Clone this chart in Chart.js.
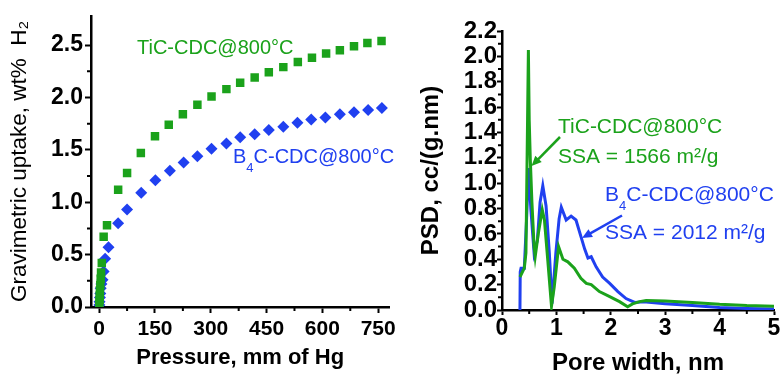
<!DOCTYPE html>
<html>
<head>
<meta charset="utf-8">
<script src="https://cdn.jsdelivr.net/npm/chart.js@4.4.0/dist/chart.umd.min.js"></script>
<style>
  html, body { margin: 0; padding: 0; background: #fff; }
  #wrap { position: relative; width: 781px; height: 375px; overflow: hidden; }
  canvas { position: absolute; top: 0; }
  #uptake { left: 0; }
  #psd { left: 400px; }
</style>
</head>
<body>
<div id="wrap">
  <canvas id="uptake" width="400" height="375"></canvas>
  <canvas id="psd" width="381" height="375"></canvas>
</div>
<script>
// left panel: H2 isotherms
const ticPressure = [0.5, 1, 1.5, 2, 3, 4, 5, 7, 12, 21, 51, 75, 112, 150, 187, 225, 264, 302, 342, 379, 418, 456, 495, 534, 572, 610, 647, 685, 721, 759];
const ticUptake = [0.03, 0.07, 0.11, 0.16, 0.21, 0.27, 0.33, 0.42, 0.67, 0.78, 1.12, 1.28, 1.47, 1.63, 1.74, 1.84, 1.93, 2.01, 2.08, 2.14, 2.19, 2.24, 2.29, 2.34, 2.38, 2.42, 2.45, 2.49, 2.52, 2.54];
const b4cPressure = [0.5, 1, 2, 3, 4, 6, 9, 12, 16, 25, 51, 75, 113, 151, 190, 227, 264, 302, 342, 379, 418, 456, 495, 533, 570, 608, 647, 685, 723, 760];
const b4cUptake = [0.02, 0.05, 0.09, 0.13, 0.18, 0.22, 0.26, 0.34, 0.46, 0.57, 0.80, 0.93, 1.09, 1.21, 1.30, 1.38, 1.44, 1.51, 1.56, 1.62, 1.65, 1.69, 1.72, 1.76, 1.79, 1.81, 1.84, 1.86, 1.88, 1.90];

const pressureTicks = [0, 150, 300, 450, 600, 750];
const pressureMinor = [75, 225, 375, 525, 675];
const uptakeTicks = [0, 0.5, 1, 1.5, 2, 2.5];
const uptakeMinor = [0.25, 0.75, 1.25, 1.75, 2.25];

// right panel: pore size distribution
const ticWidth = [0.33, 0.41, 0.44, 0.47, 0.485, 0.50, 0.52, 0.55, 0.59, 0.61, 0.67, 0.74, 0.78, 0.84, 0.91, 0.96, 1.04, 1.12, 1.21, 1.33, 1.45, 1.55, 1.64, 1.79, 1.98, 2.16, 2.31, 2.40, 2.53, 2.65, 3.0, 3.5, 4.0, 4.5, 5.0];
const ticPsd = [0.26, 0.33, 0.45, 1.5, 2.05, 1.5, 1.19, 0.85, 0.50, 0.42, 0.61, 0.79, 0.71, 0.40, 0.03, 0.18, 0.50, 0.40, 0.38, 0.33, 0.25, 0.21, 0.20, 0.145, 0.105, 0.066, 0.026, 0.048, 0.066, 0.075, 0.07, 0.06, 0.045, 0.035, 0.03];
const b4cWidth = [0.33, 0.335, 0.35, 0.41, 0.45, 0.49, 0.53, 0.59, 0.65, 0.70, 0.75, 0.81, 0.87, 0.92, 0.99, 1.05, 1.09, 1.18, 1.27, 1.36, 1.45, 1.52, 1.58, 1.64, 1.73, 1.85, 1.98, 2.13, 2.28, 2.44, 2.6, 3.0, 3.5, 4.0, 4.5, 5.0];
const b4cPsd = [0, 0.30, 0.33, 0.33, 0.7, 1.12, 0.8, 0.45, 0.55, 0.85, 0.98, 0.82, 0.45, 0.05, 0.45, 0.72, 0.81, 0.71, 0.74, 0.71, 0.58, 0.48, 0.41, 0.42, 0.34, 0.26, 0.21, 0.145, 0.09, 0.06, 0.065, 0.05, 0.035, 0.02, 0.012, 0.008];

const widthTicks = [0, 1, 2, 3, 4, 5];
const widthMinor = [0.5, 1.5, 2.5, 3.5, 4.5];
const psdTicks = [0, 0.2, 0.4, 0.6, 0.8, 1.0, 1.2, 1.4, 1.6, 1.8, 2.0, 2.2];
const psdMinor = [0.1, 0.3, 0.5, 0.7, 0.9, 1.1, 1.3, 1.5, 1.7, 1.9, 2.1];

const GREEN = '#1ba21b';
const BLUE = '#2040f0';
const FONT = '"Liberation Sans", Arial, sans-serif';

function toPoints(xs, ys) {
    return xs.map((x, i) => ({ x: x, y: ys[i] }));
}

// short ticks between the labelled ones
const minorTicks = {
    id: 'minorTicks',
    afterDraw(chart, args, opts) {
        const ctx = chart.ctx;
        const xs = chart.scales.x, ys = chart.scales.y;
        ctx.save();
        ctx.strokeStyle = '#000';
        ctx.lineWidth = 2;
        ctx.beginPath();
        opts.x.forEach(v => {
            const px = xs.getPixelForValue(v);
            ctx.moveTo(px, xs.top);
            ctx.lineTo(px, xs.top + 4);
        });
        opts.y.forEach(v => {
            const py = ys.getPixelForValue(v);
            ctx.moveTo(ys.right, py);
            ctx.lineTo(ys.right - 4, py);
        });
        ctx.stroke();
        ctx.restore();
    }
};

function drawText(ctx, text, x, y, size, color) {
    ctx.font = size + 'px ' + FONT;
    ctx.fillStyle = color;
    ctx.textBaseline = 'middle';
    ctx.textAlign = 'left';
    ctx.fillText(text, x, y);
    return x + ctx.measureText(text).width;
}

// B4C label with a subscript 4
function drawB4C(ctx, x, y, size, subSize, color) {
    let nx = drawText(ctx, 'B', x, y, size, color);
    nx = drawText(ctx, '4', nx, y + size * 0.55, subSize, color);
    drawText(ctx, 'C-CDC@800°C', nx, y, size, color);
}

function drawArrow(ctx, x1, y1, x2, y2, color) {
    const ang = Math.atan2(y2 - y1, x2 - x1);
    const len = 10, half = 4.5;
    ctx.save();
    ctx.strokeStyle = color;
    ctx.fillStyle = color;
    ctx.lineWidth = 2.5;
    ctx.beginPath();
    ctx.moveTo(x1, y1);
    ctx.lineTo(x2 - Math.cos(ang) * len * 0.8, y2 - Math.sin(ang) * len * 0.8);
    ctx.stroke();
    ctx.beginPath();
    ctx.moveTo(x2, y2);
    ctx.lineTo(x2 - Math.cos(ang) * len - Math.sin(ang) * half, y2 - Math.sin(ang) * len + Math.cos(ang) * half);
    ctx.lineTo(x2 - Math.cos(ang) * len + Math.sin(ang) * half, y2 - Math.sin(ang) * len - Math.cos(ang) * half);
    ctx.closePath();
    ctx.fill();
    ctx.restore();
}

const uptakeLabels = {
    id: 'uptakeLabels',
    afterDraw(chart) {
        const ctx = chart.ctx;
        ctx.save();
        drawText(ctx, 'TiC-CDC@800°C', 137, 48, 20, GREEN);
        drawB4C(ctx, 233, 157, 20, 13, BLUE);
        ctx.restore();
    }
};

const psdLabels = {
    id: 'psdLabels',
    afterDraw(chart) {
        const ctx = chart.ctx;
        ctx.save();
        drawText(ctx, 'TiC-CDC@800°C', 158, 127, 21, GREEN);
        drawText(ctx, 'SSA = 1566 m²/g', 158, 157, 21, GREEN);
        drawB4C(ctx, 205, 195, 21, 13, BLUE);
        drawText(ctx, 'SSA = 2012 m²/g', 205, 233, 21, BLUE);
        drawArrow(ctx, 160, 137, 131.5, 166, GREEN);
        drawArrow(ctx, 222, 215.5, 182, 238, BLUE);
        ctx.restore();
    }
};

function axis(opts) {
    return {
        type: 'linear',
        min: opts.min,
        max: opts.max,
        afterBuildTicks: s => { s.ticks = opts.ticks.map(v => ({ value: v })); },
        afterFit: s => {
            if (opts.width) s.width = opts.width;
            if (opts.height) s.height = opts.height;
        },
        border: { display: true, color: '#000', width: 2.5 },
        grid: { drawOnChartArea: false, drawTicks: true, tickLength: opts.tickLength, tickWidth: 2, tickColor: '#000' },
        ticks: {
            autoSkip: false,
            maxRotation: 0,
            padding: opts.padding,
            color: '#000',
            font: { family: FONT, size: opts.tickSize, weight: 'bold' },
            callback: opts.format
        },
        title: {
            display: true,
            text: opts.title,
            color: '#000',
            padding: opts.titlePadding,
            font: { family: FONT, size: opts.titleSize, weight: opts.titleWeight, lineHeight: opts.titleLine }
        }
    };
}

new Chart(document.getElementById('uptake'), {
    type: 'scatter',
    data: {
        datasets: [{
            label: 'TiC-CDC@800°C',
            data: toPoints(ticPressure, ticUptake),
            pointStyle: 'rect',
            pointRadius: 6,
            pointBackgroundColor: GREEN,
            pointBorderWidth: 0,
            pointHoverRadius: 6
        }, {
            label: 'B4C-CDC@800°C',
            data: toPoints(b4cPressure, b4cUptake),
            pointStyle: 'rectRot',
            pointRadius: 6,
            pointBackgroundColor: BLUE,
            pointBorderWidth: 0,
            pointHoverRadius: 6
        }]
    },
    options: {
        responsive: false,
        animation: false,
        devicePixelRatio: 1,
        layout: { padding: { top: 14, right: 8, left: 0, bottom: 0 } },
        scales: {
            x: axis({
                min: -22, max: 780, ticks: pressureTicks, height: 68, tickLength: 6, padding: 4,
                tickSize: 21, format: v => String(v),
                title: 'Pressure, mm of Hg', titleSize: 22, titleWeight: 'bold', titleLine: 1.2,
                titlePadding: { top: 0, bottom: 4 }
            }),
            y: axis({
                min: 0, max: 2.78, ticks: uptakeTicks, width: 91, tickLength: 6, padding: 2,
                tickSize: 23, format: v => v.toFixed(1),
                title: 'Gravimetric uptake, wt%  H\u2082', titleSize: 22.5, titleWeight: 'normal', titleLine: 1.2,
                titlePadding: { top: 6, bottom: 0 }
            })
        },
        plugins: {
            legend: { display: false },
            tooltip: { enabled: false },
            minorTicks: { x: pressureMinor, y: uptakeMinor }
        }
    },
    plugins: [minorTicks, uptakeLabels]
});

new Chart(document.getElementById('psd'), {
    type: 'scatter',
    data: {
        datasets: [{
            label: 'TiC-CDC@800°C',
            data: toPoints(ticWidth, ticPsd),
            showLine: true,
            borderColor: GREEN,
            borderWidth: 3,
            pointRadius: 0,
            tension: 0
        }, {
            label: 'B4C-CDC@800°C',
            data: toPoints(b4cWidth, b4cPsd),
            showLine: true,
            borderColor: BLUE,
            borderWidth: 3,
            pointRadius: 0,
            tension: 0
        }]
    },
    options: {
        responsive: false,
        animation: false,
        devicePixelRatio: 1,
        layout: { padding: { top: 31, right: 7, left: 0, bottom: 0 } },
        scales: {
            x: axis({
                min: 0, max: 5, ticks: widthTicks, height: 65, tickLength: 5, padding: 0,
                tickSize: 23, format: v => String(v),
                title: 'Pore width, nm', titleSize: 24, titleWeight: 'bold', titleLine: 1.0,
                titlePadding: { top: 0, bottom: 0 }
            }),
            y: axis({
                min: 0, max: 2.2, ticks: psdTicks, width: 102, tickLength: 5, padding: 0,
                tickSize: 24, format: v => v.toFixed(1),
                title: 'PSD, cc/(g.nm)', titleSize: 24, titleWeight: 'bold', titleLine: 1.2,
                titlePadding: { top: 17, bottom: 0 }
            })
        },
        plugins: {
            legend: { display: false },
            tooltip: { enabled: false },
            minorTicks: { x: widthMinor, y: psdMinor }
        }
    },
    plugins: [minorTicks, psdLabels]
});
</script>
</body>
</html>
